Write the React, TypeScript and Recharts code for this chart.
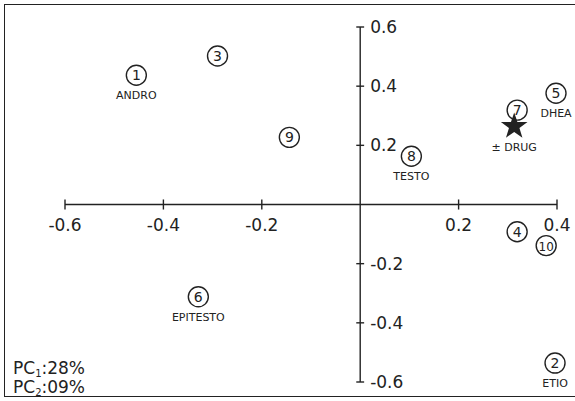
import React from "react";
import { ScatterChart, Scatter, XAxis, YAxis, ReferenceLine } from "recharts";

const pointIds = [1, 2, 3, 4, 5, 6, 7, 8, 9, 10];
const pointNames = ["ANDRO", "ETIO", "", "", "DHEA", "EPITESTO", "", "TESTO", "", ""];
const pc1 = [-0.455, 0.396, -0.29, 0.319, 0.398, -0.329, 0.319, 0.104, -0.144, 0.378];
const pc2 = [0.437, -0.536, 0.502, -0.092, 0.376, -0.312, 0.319, 0.163, 0.227, -0.139];

const drugX = [0.313];
const drugY = [0.264];
const drugLabel = "± DRUG";

const xTicks = [-0.6, -0.4, -0.2, 0.2, 0.4];
const yTicks = [0.6, 0.4, 0.2, -0.2, -0.4, -0.6];

const INK = "#222";
const FONT = "'DejaVu Sans', sans-serif";

const points = pointIds.map((id, i) => ({ id, name: pointNames[i], x: pc1[i], y: pc2[i] }));
const drug = drugX.map((x, i) => ({ x, y: drugY[i], name: drugLabel }));

function NumberedPoint(props: any) {
  const { cx, cy, payload } = props;
  return (
    <g>
      <circle cx={cx} cy={cy} r={10} fill="#fff" stroke={INK} strokeWidth={1.4} />
      <text x={cx} y={cy + 5} textAnchor="middle" fontSize={payload.id > 9 ? 12 : 14} fontFamily={FONT} fill={INK}>
        {payload.id}
      </text>
      {payload.name && (
        <text x={cx} y={cy + 24} textAnchor="middle" fontSize={11} fontFamily={FONT} fill={INK}>
          {payload.name}
        </text>
      )}
    </g>
  );
}

function StarPoint(props: any) {
  const { cx, cy, payload } = props;
  const pts: string[] = [];
  for (let k = 0; k < 10; k++) {
    const r = k % 2 === 0 ? 14 : 5.5;
    const a = -Math.PI / 2 + (k * Math.PI) / 5;
    pts.push(`${cx + r * Math.cos(a)},${cy + r * Math.sin(a)}`);
  }
  return (
    <g>
      <polygon points={pts.join(" ")} fill={INK} />
      <text x={cx} y={cy + 25} textAnchor="middle" fontSize={11} fontFamily={FONT} fill={INK}>
        {payload.name}
      </text>
    </g>
  );
}

const subStyle: React.CSSProperties = { fontSize: 10, lineHeight: 0, verticalAlign: "-3px" };

export default function App() {
  return (
    <div style={{ position: "absolute", left: 0, top: 0, width: 575, height: 401, background: "#fff", overflow: "hidden" }}>
      <div
        style={{
          position: "absolute",
          left: 4,
          top: 4,
          width: 590,
          height: 391,
          border: `1.5px solid ${INK}`,
        }}
      />
      <ScatterChart width={575} height={401} margin={{ top: 27, left: 65, right: 18, bottom: 19 }}>
        <XAxis type="number" dataKey="x" domain={[-0.6, 0.4]} hide />
        <YAxis type="number" dataKey="y" domain={[-0.6, 0.6]} hide />
        <ReferenceLine y={0} stroke={INK} strokeWidth={1.4} />
        <ReferenceLine x={0} stroke={INK} strokeWidth={1.4} />
        {xTicks.map((t) => (
          <ReferenceLine
            key={`xt${t}`}
            segment={[{ x: t, y: -0.017 }, { x: t, y: 0.017 }]}
            stroke={INK}
            strokeWidth={1.4}
            label={{ value: t.toFixed(1), position: "bottom", offset: 9, fill: INK, fontSize: 17, fontFamily: FONT }}
          />
        ))}
        {yTicks.map((t) => (
          <ReferenceLine
            key={`yt${t}`}
            segment={[{ x: -0.008, y: t }, { x: 0.008, y: t }]}
            stroke={INK}
            strokeWidth={1.4}
            label={{ value: t.toFixed(1), position: "right", offset: 6, fill: INK, fontSize: 17, fontFamily: FONT }}
          />
        ))}
        <Scatter data={points} shape={NumberedPoint} isAnimationActive={false} />
        <Scatter data={drug} shape={StarPoint} isAnimationActive={false} />
      </ScatterChart>
      <div style={{ position: "absolute", left: 13, top: 359, fontFamily: FONT, fontSize: 17, color: INK, lineHeight: "19px" }}>
        <div>
          PC<span style={subStyle}>1</span>:28%
        </div>
        <div>
          PC<span style={subStyle}>2</span>:09%
        </div>
      </div>
    </div>
  );
}
